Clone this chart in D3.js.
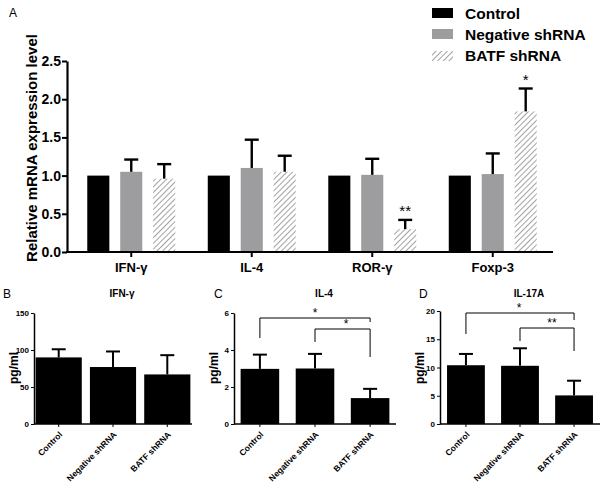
<!DOCTYPE html>
<html><head><meta charset="utf-8">
<script src="https://cdn.jsdelivr.net/npm/d3@7"></script>
<style>body{margin:0;background:#fff}svg{display:block}text{font-family:"Liberation Sans",Arial,sans-serif}</style>
</head><body><svg id="c" width="609" height="484"></svg>
<script>
// ---- Panel A data ----
const genes = ["IFN-γ", "IL-4", "ROR-γ", "Foxp-3"];
const groups = ["Control", "Negative shRNA", "BATF shRNA"];
const meanControl = [1.0, 1.0, 1.0, 1.0];
const errControl = [0, 0, 0, 0];
const meanNegative = [1.05, 1.10, 1.01, 1.02];
const errNegative = [0.16, 0.37, 0.21, 0.27];
const meanBATF = [0.96, 1.05, 0.30, 1.84];
const errBATF = [0.19, 0.21, 0.12, 0.30];
const sigA = ["", "", "**", "*"];
const yTicksA = [0, 0.5, 1.0, 1.5, 2.0, 2.5];
const yTickLabelsA = ["0.0", "0.5", "1.0", "1.5", "2.0", "2.5"];

// ---- Panels B-D data ----
const elisaGroups = ["Control", "Negative shRNA", "BATF shRNA"];
const ifnMean = [90, 77, 67];
const ifnErr = [11, 21, 26];
const il4Mean = [2.98, 3.0, 1.40];
const il4Err = [0.77, 0.79, 0.50];
const il17Mean = [10.4, 10.3, 5.06];
const il17Err = [2.0, 3.1, 2.6];
const ticksB = [0, 50, 100, 150];
const ticksC = [0, 2, 4, 6];
const ticksD = [0, 5, 10, 15, 20];

const FONT = "Liberation Sans, Arial, sans-serif";
const svg = d3.select("#c");
const defs = svg.append("defs");
const pat = defs.append("pattern").attr("id", "hatch").attr("patternUnits", "userSpaceOnUse")
  .attr("width", 4).attr("height", 4).attr("patternTransform", "rotate(45)");
pat.append("rect").attr("width", 4).attr("height", 4).attr("fill", "#fff");
pat.append("line").attr("x1", 0).attr("y1", 0).attr("x2", 0).attr("y2", 4).attr("stroke", "#8a8a8a").attr("stroke-width", 1.6);

const fills = ["#000", "#9d9d9f", "url(#hatch)"];

// ---- Panel A ----
svg.append("text").attr("x", 9).attr("y", 17).attr("font-size", 12).text("A");
const yA = d3.scaleLinear().domain([0, 2.5]).range([252, 61]);
const xA = d3.scaleBand().domain(genes).range([71, 553]);
const xIn = d3.scaleBand().domain(groups).range([xA.bandwidth() * 0.135, xA.bandwidth() * 0.865]).paddingInner(0.33);

svg.append("text").attr("transform", "translate(37,148) rotate(-90)").attr("text-anchor", "middle")
  .attr("font-size", 15).attr("font-weight", "bold").text("Relative mRNA expression level");

const gA = svg.append("g");
const means = [meanControl, meanNegative, meanBATF];
const errs = [errControl, errNegative, errBATF];
groups.forEach((g, si) => {
  genes.forEach((gene, i) => {
    const x0 = xA(gene) + xIn(g), w = xIn.bandwidth(), cx = x0 + w / 2;
    const m = means[si][i], e = errs[si][i];
    gA.append("rect").attr("x", x0).attr("y", yA(m)).attr("width", w).attr("height", yA(0) - yA(m)).attr("fill", fills[si]);
    if (e > 0) {
      gA.append("line").attr("x1", cx).attr("x2", cx).attr("y1", yA(m)).attr("y2", yA(m + e)).attr("stroke", "#000").attr("stroke-width", 2.4);
      gA.append("line").attr("x1", cx - 7).attr("x2", cx + 7).attr("y1", yA(m + e)).attr("y2", yA(m + e)).attr("stroke", "#000").attr("stroke-width", 2.4);
    }
    if (si === 2 && sigA[i]) {
      gA.append("text").attr("x", cx).attr("y", yA(m + e) - 4).attr("text-anchor", "middle").attr("font-size", 15).text(sigA[i]);
    }
  });
});
const axXA = svg.append("g").attr("transform", "translate(0,252)")
  .call(d3.axisBottom(xA).tickSize(5).tickSizeOuter(0).tickPadding(6));
axXA.select(".domain").attr("d", "M66,0H553").attr("stroke-width", 2.2);
axXA.selectAll(".tick line").attr("stroke-width", 2);
axXA.selectAll(".tick text").style("font-size", "13px").style("font-weight", "bold").style("font-family", FONT).style("fill", "#000");

// legend
groups.forEach((g, i) => {
  const y = 8 + i * 21;
  svg.append("rect").attr("x", 432).attr("y", y + (i === 2 ? 1 : 0)).attr("width", 21).attr("height", 10).attr("fill", fills[i]);
  svg.append("text").attr("x", 465).attr("y", y + 11).attr("font-size", 15.5).attr("font-weight", "bold").text(g);
});

// ---- Small panels ----
function panel(opt) {
  const g = svg.append("g");
  const y = d3.scaleLinear().domain(opt.domain).range([424, opt.top]);
  const x = d3.scaleBand().domain(elisaGroups).range([opt.x0, opt.x1]).paddingInner(opt.pi).paddingOuter(opt.po);
  elisaGroups.forEach((k, i) => {
    const cx = x(k) + x.bandwidth() / 2, m = opt.mean[i], e = opt.err[i];
    g.append("rect").attr("x", x(k)).attr("y", y(m)).attr("width", x.bandwidth()).attr("height", y(0) - y(m)).attr("fill", "#000");
    g.append("line").attr("x1", cx).attr("x2", cx).attr("y1", y(m)).attr("y2", y(m + e)).attr("stroke", "#000").attr("stroke-width", 2);
    g.append("line").attr("x1", cx - 7).attr("x2", cx + 7).attr("y1", y(m + e)).attr("y2", y(m + e)).attr("stroke", "#000").attr("stroke-width", 2);
  });
  const ay = g.append("g").attr("transform", `translate(${opt.x0},0)`)
    .call(d3.axisLeft(y).tickValues(opt.ticks).tickFormat(d3.format("d")).tickSize(3).tickSizeOuter(0).tickPadding(2));
  ay.select(".domain").attr("stroke-width", 1.5);
  ay.selectAll(".tick text").style("font-size", "8px").style("font-weight", "bold").style("font-family", FONT).style("fill", "#000");
  const ax = g.append("g").attr("transform", "translate(0,424)")
    .call(d3.axisBottom(x).tickSize(3).tickSizeOuter(0));
  ax.select(".domain").attr("d", `M${opt.x0},0H${opt.x1}`).attr("stroke-width", 1.5);
  ax.selectAll(".tick text").style("font-size", "8.5px").style("font-weight", "bold").style("font-family", FONT).style("fill", "#000")
    .attr("text-anchor", "end").attr("x", 0).attr("y", 0).attr("dy", "0.35em").attr("transform", "translate(2,9) rotate(-45)");
  svg.append("text").attr("x", opt.lx).attr("y", 298).attr("font-size", 12).text(opt.letter);
  svg.append("text").attr("x", (opt.x0 + opt.x1) / 2 + 9).attr("y", 297).attr("text-anchor", "middle").attr("font-size", 10).attr("font-weight", "bold").text(opt.title);
  svg.append("text").attr("transform", `translate(${opt.x0 - 16},368) rotate(-90)`).attr("text-anchor", "middle").attr("font-size", 12).attr("font-weight", "bold").text("pg/ml");
  (opt.brackets || []).forEach(b => {
    const xa = x(elisaGroups[b.a]) + x.bandwidth() / 2, xb = x(elisaGroups[b.b]) + x.bandwidth() / 2;
    g.append("path").attr("d", `M${xa},${b.ya}V${b.yt}H${xb}V${b.yb}`).attr("fill", "none").attr("stroke", "#000").attr("stroke-width", 1);
    g.append("text").attr("x", b.sx).attr("y", b.yt - 1).attr("text-anchor", "middle").attr("font-size", 12).text(b.label);
  });
}
panel({letter: "B", lx: 3, title: "IFN-γ", domain: [0, 150], top: 313, ticks: ticksB, x0: 34, x1: 192, pi: 0.15, po: 0.03, mean: ifnMean, err: ifnErr});
panel({letter: "C", lx: 214, title: "IL-4", domain: [0, 6], top: 313, ticks: ticksC, x0: 234, x1: 396, pi: 0.3, po: 0.12, mean: il4Mean, err: il4Err,
  brackets: [{a: 0, b: 2, ya: 338, yt: 318, yb: 322, label: "*", sx: 315}, {a: 1, b: 2, ya: 342, yt: 329, yb: 357, label: "*", sx: 346}]});
panel({letter: "D", lx: 419, title: "IL-17A", domain: [0, 20], top: 311, ticks: ticksD, x0: 440, x1: 600, pi: 0.3, po: 0.13, mean: il17Mean, err: il17Err,
  brackets: [{a: 0, b: 2, ya: 334, yt: 313, yb: 320, label: "*", sx: 519}, {a: 1, b: 2, ya: 341, yt: 328, yb: 351, label: "**", sx: 552}]});

// Panel A y-axis (ticks from the axis, labels placed with the same scale)
const axYA = svg.append("g").attr("transform", "translate(67,0)")
  .call(d3.axisLeft(yA).tickValues(yTicksA).tickFormat("").tickSize(5).tickSizeOuter(0));
axYA.select(".domain").attr("stroke-width", 2.2);
axYA.selectAll(".tick line").attr("stroke-width", 2);
const yLab = svg.append("g").attr("class", "ylabA");
yTicksA.forEach((v, i) => {
  yLab.append("text").attr("x", 61).attr("y", yA(v)).attr("dy", "0.35em").attr("text-anchor", "end")
    .attr("font-size", 14).attr("font-weight", "bold").attr("fill", "#000").text(yTickLabelsA[i]);
});
</script></body></html>
